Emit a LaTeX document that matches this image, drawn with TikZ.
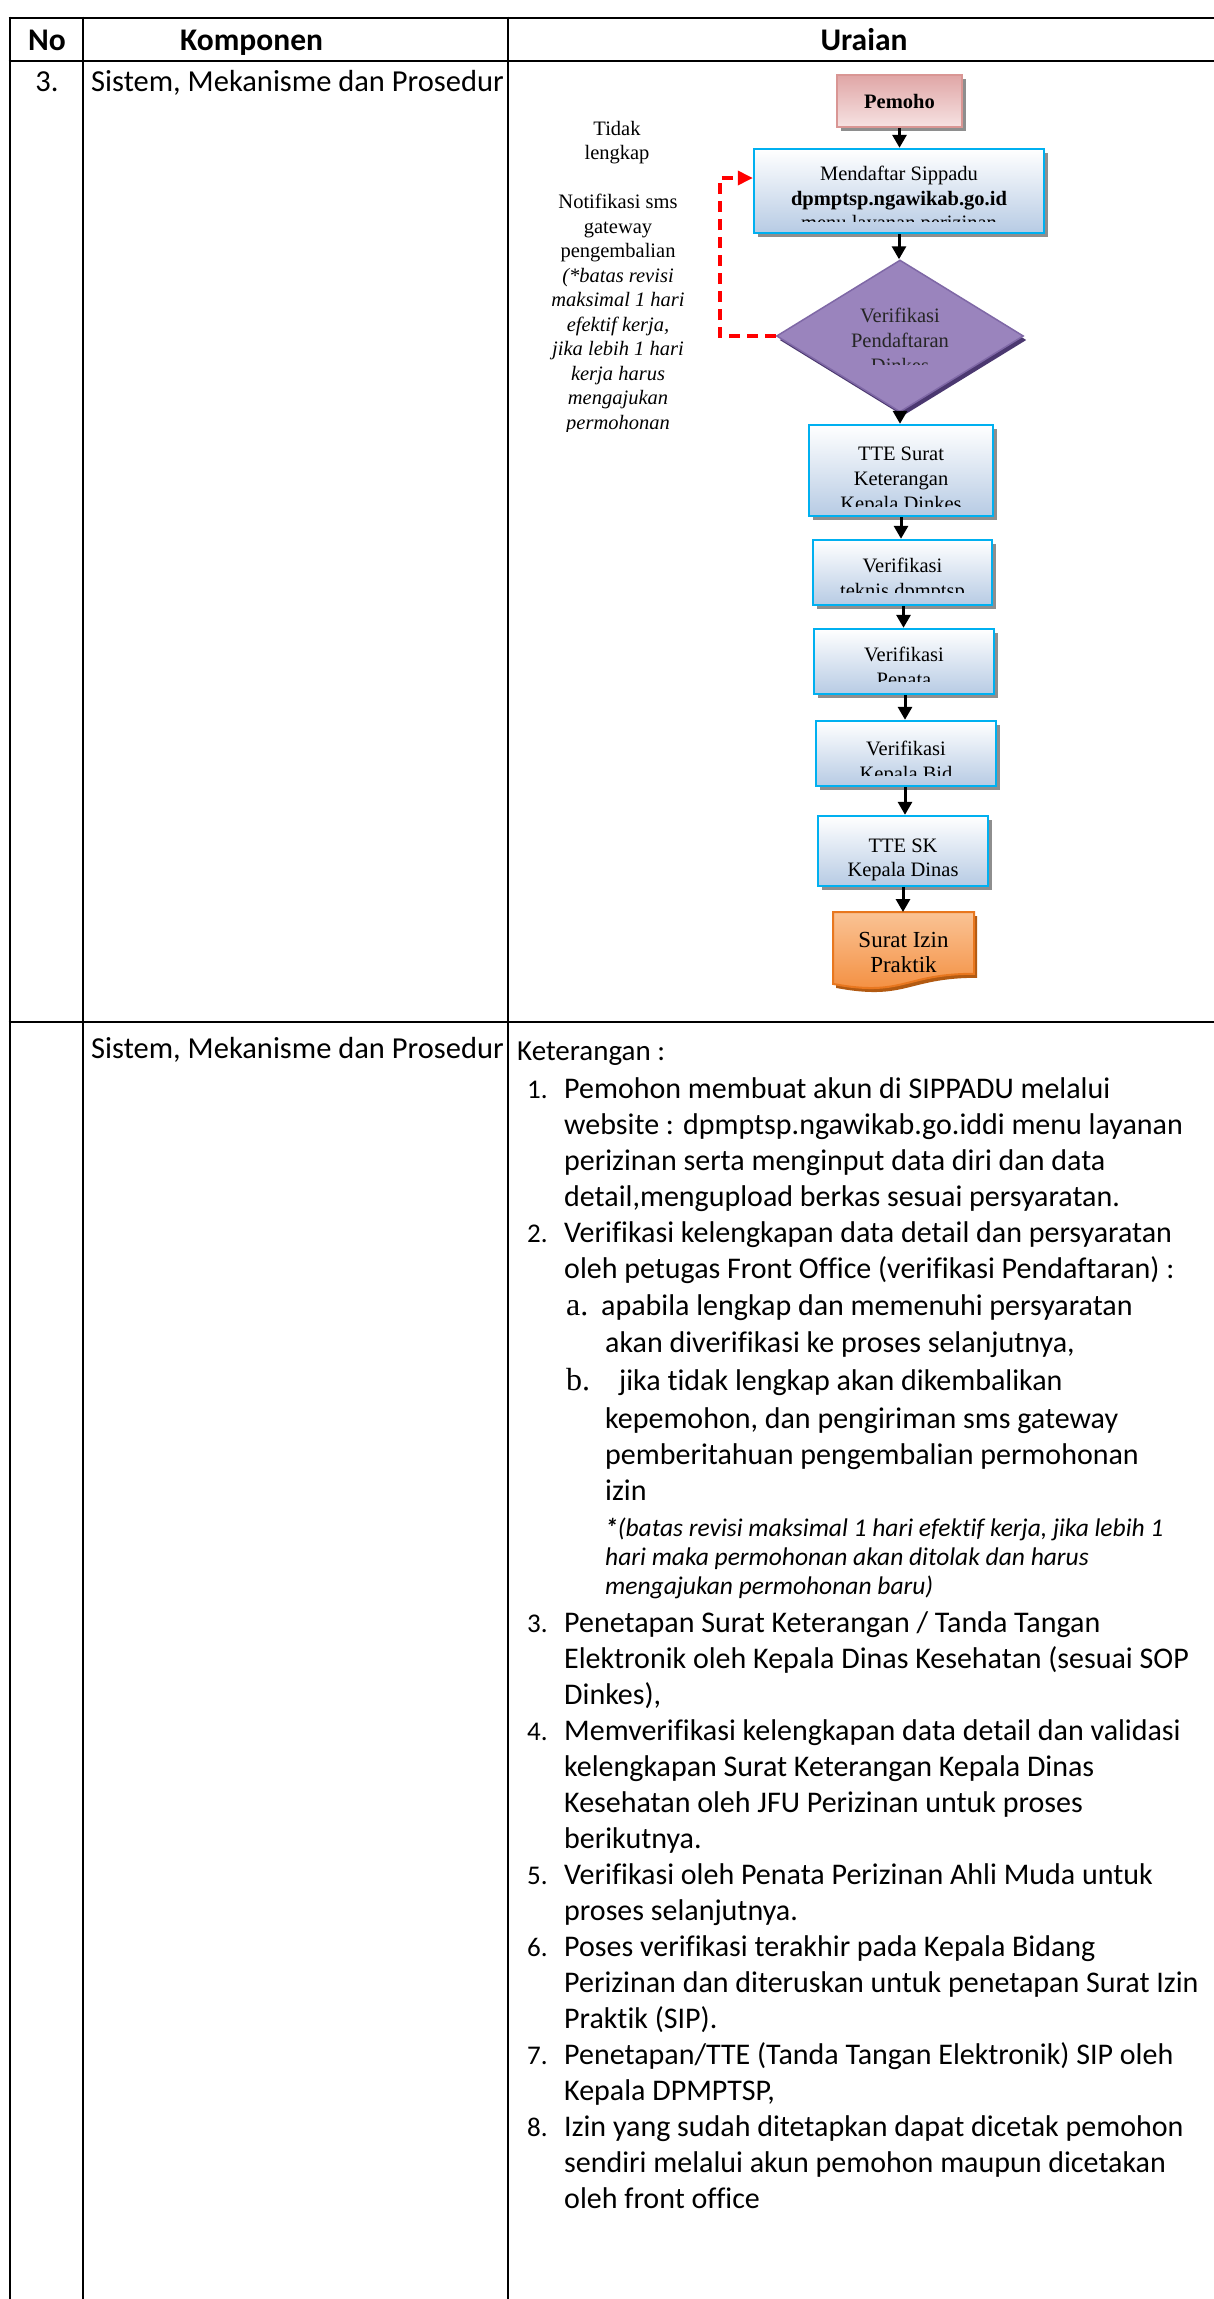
\documentclass[tikz,border=0pt]{standalone}
\usepackage{fontspec}
\setmainfont{Carlito}[Ligatures=NoCommon]
\newfontfamily\tmsfont{Liberation Serif}
\usetikzlibrary{shapes.geometric,shadows,arrows.meta}

\definecolor{boxcyan}{HTML}{00B0F0}
\definecolor{boxblue}{HTML}{B7CBE4}
\definecolor{shadegray}{HTML}{8E8E8E}
\definecolor{pinkedge}{HTML}{D99694}
\definecolor{pinktop}{HTML}{E0A6A6}
\definecolor{pinkbot}{HTML}{F6E2E2}
\definecolor{purpedge}{HTML}{7F68A6}
\definecolor{purplight}{HTML}{9A84BD}
\definecolor{purpdark}{HTML}{684A95}
\definecolor{purpshadow}{HTML}{4B3870}
\definecolor{orgtop}{HTML}{FAC395}
\definecolor{orgbot}{HTML}{F38B3A}
\definecolor{orgedge}{HTML}{E8771F}
\definecolor{orgshadow}{HTML}{B25A12}

\begin{document}
\begin{tikzpicture}[x=1pt,y=-1pt,
  grid/.style={line width=2.6pt},
  hdr/.style={inner sep=0, anchor=base, font=\bfseries\fontsize{31.5}{36}\selectfont},
  cell/.style={inner sep=0, anchor=base west, font=\fontsize{30.5}{37}\selectfont},
  ket/.style={inner sep=0, anchor=base west, font=\fontsize{29}{32}\selectfont},
  lst/.style={inner sep=0, anchor=base west, font=\fontsize{30}{36}\selectfont},
  num/.style={inner sep=0, anchor=base west, font=\fontsize{27}{36}\selectfont},
  abmark/.style={inner sep=0, anchor=base west, font=\tmsfont\fontsize{32}{36}\selectfont},
  ital/.style={inner sep=0, anchor=base west, font=\itshape\fontsize{25.5}{29}\selectfont},
  ftxt/.style={inner sep=0, anchor=base, font=\tmsfont\fontsize{20.5}{24.5}\selectfont},
  fbold/.style={inner sep=0, anchor=base, font=\tmsfont\bfseries\fontsize{20.5}{24.5}\selectfont},
  fital/.style={inner sep=0, anchor=base, font=\tmsfont\itshape\fontsize{20.5}{24.5}\selectfont},
  flowbox/.style={rectangle, draw=boxcyan, line width=2.4pt, top color=white,
    bottom color=boxblue, inner sep=0,
    drop shadow={shadow xshift=3.5pt, shadow yshift=-4pt, fill=shadegray, opacity=1}},
  flowarrow/.style={line width=3pt, -{Triangle[length=13pt,width=14pt]}},
  backarrow/.style={draw=red, line width=3.5pt, dash pattern=on 11pt off 7pt,
    -{Triangle[length=15pt,width=14pt]}}
]
\useasboundingbox (0,0) rectangle (1214,2299);
\fill[white] (0,0) rectangle (1214,2299);

% table rules
\draw[grid] (8.7,18) -- (1214,18);
\draw[grid] (8.7,61) -- (1214,61);
\draw[grid] (8.7,1022) -- (1214,1022);
\draw[grid] (10,16.7) -- (10,2299);
\draw[grid] (83,16.7) -- (83,2299);
\draw[grid] (508,16.7) -- (508,2299);

% header and first column
\node[hdr] (hNo) at (47,51) {No};
\node[hdr, anchor=base west] (hKomp) at (180,51) {Komponen};
\node[hdr] (hUr) at (864,51) {Uraian};
\node[cell, anchor=base] (rowno) at (47,91) {3.};
\node[cell] (rowkompA) at (91,91) {Sistem, Mekanisme dan Prosedur};
\node[cell] (rowkompB) at (91,1058) {Sistem, Mekanisme dan Prosedur};

% ---------- flowchart ----------
\node[flowbox, draw=pinkedge, top color=pinktop, bottom color=pinkbot,
  minimum width=125pt, minimum height=52pt] (pem) at (899.5,101) {};
\node[fbold] (pemT) at (899.5,108) {Pemoho};

\node[flowbox, minimum width=290pt, minimum height=84pt] (mend) at (899,191) {};
\begin{scope}
  \clip (mend.north west) rectangle ([yshift=13pt]mend.south east);
  \node[ftxt] (mendA) at (899,180) {Mendaftar Sippadu};
  \node[fbold] (mendB) at (899,205) {dpmptsp.ngawikab.go.id};
  \node[ftxt] (mendC) at (899,229) {menu layanan perizinan};
\end{scope}

\node[diamond, draw=purpedge, line width=1.5pt, aspect=1.62, inner sep=0,
  minimum width=247pt, minimum height=152pt,
  top color=purplight, middle color=purpdark, bottom color=purplight,
  drop shadow={shadow xshift=3pt, shadow yshift=-4pt, fill=purpshadow, opacity=1}]
  (ver) at (900,336) {};
\begin{scope}
  \clip (836,296) rectangle (964,364);
  \node[ftxt, text=black!85] (verA) at (900,322) {Verifikasi};
  \node[ftxt, text=black!85] (verB) at (900,347) {Pendaftaran};
  \node[ftxt, text=black!85] (verC) at (900,372) {Dinkes};
\end{scope}

\node[flowbox, minimum width=184pt, minimum height=91pt] (tteA) at (901,470.5) {};
\begin{scope}
  \clip (tteA.north west) rectangle ([yshift=11pt]tteA.south east);
  \node[ftxt] (tteAa) at (901,460) {TTE Surat};
  \node[ftxt] (tteAb) at (901,485) {Keterangan};
  \node[ftxt] (tteAc) at (901,510) {Kepala Dinkes};
\end{scope}

\node[flowbox, minimum width=179pt, minimum height=65pt] (tekn) at (902.5,572.5) {};
\begin{scope}
  \clip (tekn.north west) rectangle ([yshift=14pt]tekn.south east);
  \node[ftxt] (teknA) at (902.5,572) {Verifikasi};
  \node[ftxt] (teknB) at (902.5,597) {teknis dpmptsp};
\end{scope}

\node[flowbox, minimum width=180pt, minimum height=65pt] (pnt) at (904,661.5) {};
\begin{scope}
  \clip (pnt.north west) rectangle ([yshift=14pt]pnt.south east);
  \node[ftxt] (pntA) at (904,661) {Verifikasi};
  \node[ftxt] (pntB) at (904,686) {Penata};
\end{scope}

\node[flowbox, minimum width=180pt, minimum height=65pt] (kbid) at (906,753.5) {};
\begin{scope}
  \clip (kbid.north west) rectangle ([yshift=12pt]kbid.south east);
  \node[ftxt] (kbidA) at (906,755) {Verifikasi};
  \node[ftxt] (kbidB) at (906,780) {Kepala Bid};
\end{scope}

\node[flowbox, minimum width=170pt, minimum height=70pt] (ttesk) at (903,851) {};
\node[ftxt] (tteskA) at (903,852) {TTE SK};
\node[ftxt] (tteskB) at (903,876) {Kepala Dinas};

% document shape for the permit
\fill[orgshadow] (836,916) -- (977,916) -- (977,977.8)
  .. controls (906.5,977.8) and (906.5,1001.3) .. (836,987.9) -- cycle;
\draw[orgedge, line width=2pt, top color=orgtop, bottom color=orgbot]
  (833,912) -- (974,912) -- (974,973.8)
  .. controls (903.5,973.8) and (903.5,997.3) .. (833,983.9) -- cycle;
\node[inner sep=0, minimum width=141pt, minimum height=62pt, anchor=north] (sip) at (903.5,912) {};
\node[ftxt, font=\tmsfont\fontsize{23}{26}\selectfont] (sipA) at (903.5,947) {Surat Izin};
\node[ftxt, font=\tmsfont\fontsize{23}{26}\selectfont] (sipB) at (903.5,972) {Praktik};

% connectors
\draw[flowarrow] (pem.south) -- (pem.south |- mend.north);
\draw[flowarrow] (mend.south) -- (mend.south |- ver.north);
\draw[flowarrow] (ver.south) -- (ver.south |- tteA.north);
\draw[flowarrow] (tteA.south) -- (tteA.south |- tekn.north);
\draw[flowarrow] ([xshift=1pt]tekn.south) -- ([xshift=1pt]tekn.south |- pnt.north);
\draw[flowarrow] ([xshift=1pt]pnt.south) -- ([xshift=1pt]pnt.south |- kbid.north);
\draw[flowarrow] ([xshift=-1pt]kbid.south) -- ([xshift=-1pt]kbid.south |- ttesk.north);
\draw[flowarrow] (ttesk.south) -- (ttesk.south |- sip.north);
\draw[backarrow] (ver.west) -- ++(-56,0) |- ([yshift=13pt]mend.west);

% note beside the return path
\begin{scope}
  \clip (530,100) rectangle (706,431);
  \node[ftxt] (nt1) at (617,135) {Tidak};
  \node[ftxt] (nt2) at (617,159.5) {lengkap};
  \node[ftxt] (nt3) at (618,208.5) {Notifikasi sms};
  \node[ftxt] (nt4) at (618,233) {gateway};
  \node[ftxt] (nt5) at (618,257.5) {pengembalian};
  \node[fital] (nt6) at (618,282) {(*batas revisi};
  \node[fital] (nt7) at (618,306.5) {maksimal 1 hari};
  \node[fital] (nt8) at (618,331) {efektif kerja,};
  \node[fital] (nt9) at (618,355.5) {jika lebih 1 hari};
  \node[fital] (nt10) at (618,380) {kerja harus};
  \node[fital] (nt11) at (618,404.5) {mengajukan};
  \node[fital] (nt12) at (618,429) {permohonan};
\end{scope}

% ---------- explanation ----------
\node[ket] (ketH) at (517,1060) {Keterangan :};

\node[num] (n1) at (527,1098) {1.};
\node[lst] (i1a) at (564,1098) {Pemohon membuat akun di SIPPADU melalui};
\node[lst] (i1b) at (564,1134) {website : dpmptsp.ngawikab.go.iddi menu layanan};
\node[lst] (i1c) at (564,1170) {perizinan serta menginput data diri dan data};
\node[lst] (i1d) at (564,1206) {detail,mengupload berkas sesuai persyaratan.};

\node[num] (n2) at (527,1242) {2.};
\node[lst] (i2a) at (564,1242) {Verifikasi kelengkapan data detail dan persyaratan};
\node[lst] (i2b) at (564,1278) {oleh petugas Front Office (verifikasi Pendaftaran) :};

\node[abmark] (ma) at (566,1315) {a.};
\node[lst] (iaa) at (601,1315) {apabila lengkap dan memenuhi persyaratan};
\node[lst] (iab) at (605,1352) {akan diverifikasi ke proses selanjutnya,};

\node[abmark] (mb) at (566,1390) {b.};
\node[lst] (iba) at (619,1390) {jika tidak lengkap akan dikembalikan};
\node[lst] (ibb) at (605,1428) {kepemohon, dan pengiriman sms gateway};
\node[lst] (ibc) at (605,1464) {pemberitahuan pengembalian permohonan};
\node[lst] (ibd) at (605,1500) {izin};
\node[ital] (ibe) at (605,1536) {\textbf{*}(batas revisi maksimal 1 hari efektif kerja, jika lebih 1};
\node[ital] (ibf) at (605,1565) {hari maka permohonan akan ditolak dan harus};
\node[ital] (ibg) at (605,1594) {mengajukan permohonan baru)};

\node[num] (n3) at (527,1632) {3.};
\node[lst] (i3a) at (564,1632) {Penetapan Surat Keterangan / Tanda Tangan};
\node[lst] (i3b) at (564,1668) {Elektronik oleh Kepala Dinas Kesehatan (sesuai SOP};
\node[lst] (i3c) at (564,1704) {Dinkes),};

\node[num] (n4) at (527,1740) {4.};
\node[lst] (i4a) at (564,1740) {Memverifikasi kelengkapan data detail dan validasi};
\node[lst] (i4b) at (564,1776) {kelengkapan Surat Keterangan Kepala Dinas};
\node[lst] (i4c) at (564,1812) {Kesehatan oleh JFU Perizinan untuk proses};
\node[lst] (i4d) at (564,1848) {berikutnya.};

\node[num] (n5) at (527,1884) {5.};
\node[lst] (i5a) at (564,1884) {Verifikasi oleh Penata Perizinan Ahli Muda untuk};
\node[lst] (i5b) at (564,1920) {proses selanjutnya.};

\node[num] (n6) at (527,1956) {6.};
\node[lst] (i6a) at (564,1956) {Poses verifikasi terakhir pada Kepala Bidang};
\node[lst] (i6b) at (564,1992) {Perizinan dan diteruskan untuk penetapan Surat Izin};
\node[lst] (i6c) at (564,2028) {Praktik (SIP).};

\node[num] (n7) at (527,2064) {7.};
\node[lst] (i7a) at (564,2064) {Penetapan/TTE (Tanda Tangan Elektronik) SIP oleh};
\node[lst] (i7b) at (564,2100) {Kepala DPMPTSP,};

\node[num] (n8) at (527,2136) {8.};
\node[lst] (i8a) at (564,2136) {Izin yang sudah ditetapkan dapat dicetak pemohon};
\node[lst] (i8b) at (564,2172) {sendiri melalui akun pemohon maupun dicetakan};
\node[lst] (i8c) at (564,2208) {oleh front office};
\end{tikzpicture}
\end{document}
